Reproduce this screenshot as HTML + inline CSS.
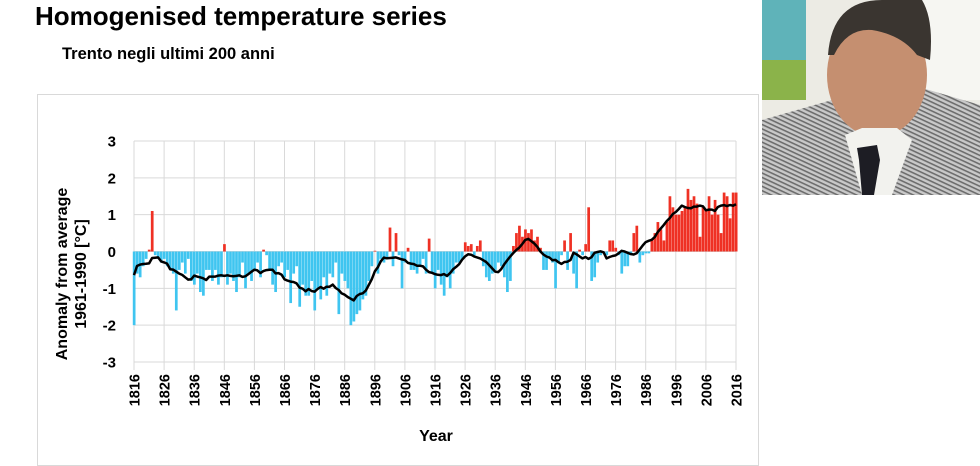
<!DOCTYPE html>
<html><head><meta charset="utf-8"><style>
body{margin:0;width:980px;height:450px;background:#fff;overflow:hidden;position:relative;font-family:"Liberation Sans",Arial,sans-serif}
.t{position:absolute;font-weight:bold;color:#000;white-space:nowrap}
</style></head><body>
<div class="t" style="left:35px;top:1px;font-size:26px">Homogenised temperature series</div>
<div class="t" style="left:62px;top:45px;font-size:16.5px">Trento negli ultimi 200 anni</div>
<svg style="position:absolute;left:762px;top:0" width="218" height="195" viewBox="0 0 218 195">
<defs><pattern id="st" width="4" height="4" patternUnits="userSpaceOnUse" patternTransform="rotate(25)"><rect width="4" height="4" fill="#c9c9c9"/><rect width="4" height="1.6" fill="#6d6d6d"/></pattern></defs>
<rect width="218" height="195" fill="#ecebe4"/>
<rect x="0" y="0" width="44" height="100" fill="#5fb3b9"/>
<rect x="0" y="60" width="44" height="40" fill="#8bb34a"/>
<rect x="160" y="0" width="58" height="100" fill="#f6f6f2"/>
<path d="M0 120 L70 100 L150 85 L218 105 L218 195 L0 195 Z" fill="url(#st)"/>
<ellipse cx="115" cy="75" rx="50" ry="62" fill="#c58f70"/>
<path d="M66 55 Q70 0 120 0 L160 0 Q172 20 168 60 L155 55 Q140 35 110 30 Q85 28 72 55 Z" fill="#3a3530"/>
<path d="M83 135 L100 128 L135 128 L150 140 L130 195 L100 195 Z" fill="#f2f2ee"/>
<path d="M95 148 L115 145 L118 160 L112 195 L100 195 L97 160 Z" fill="#1d1d24"/>
</svg>
<div style="position:absolute;left:37px;top:94px;width:720px;height:370px;border:1px solid #d9d9d9"></div>
<svg id="chart" style="position:absolute;left:0;top:0" width="980" height="450"></svg>
<script>
const years=[];for(let y=1816;y<=2016;y++)years.push(y);
const anomalies=[
-2.0,-0.6,-0.7,-0.4,-0.2,0.05,1.1,-0.1,-0.2,-0.3,
-0.2,-0.4,-0.5,-0.6,-1.6,-0.5,-0.3,-0.6,-0.2,-0.8,
-0.9,-0.6,-1.1,-1.2,-0.5,-0.5,-0.8,-0.5,-0.9,-0.7,
0.2,-0.9,-0.6,-0.8,-1.1,-0.7,-0.3,-1.0,-0.6,-0.8,
-0.5,-0.3,-0.7,0.05,-0.1,-0.5,-0.9,-1.1,-0.4,-0.3,
-0.7,-0.5,-1.4,-0.6,-0.4,-1.5,-0.9,-1.2,-1.2,-0.8,
-1.6,-1.0,-1.3,-0.7,-1.2,-0.6,-0.7,-0.3,-1.7,-0.6,
-0.8,-1.0,-2.0,-1.9,-1.7,-1.6,-1.3,-1.2,-0.8,-0.4,
0.02,-0.6,-0.2,-0.3,-0.2,0.65,-0.4,0.5,-0.1,-1.0,
-0.3,0.1,-0.5,-0.5,-0.6,-0.4,-0.2,-0.6,0.35,-0.6,
-1.0,-0.5,-0.9,-1.2,-0.7,-1.0,-0.6,-0.3,-0.3,-0.2,
0.25,0.15,0.2,-0.1,0.15,0.3,-0.4,-0.7,-0.8,-0.6,
-0.5,-0.3,-0.4,-0.7,-1.1,-0.8,0.15,0.5,0.7,0.4,
0.6,0.5,0.6,0.3,0.4,0.1,-0.5,-0.5,-0.2,-0.3,
-1.0,-0.3,-0.1,0.3,-0.5,0.5,-0.6,-1.0,0.05,-0.1,
0.2,1.2,-0.8,-0.7,-0.3,-0.1,-0.05,-0.1,0.3,0.3,
0.1,-0.1,-0.6,-0.4,-0.4,-0.1,0.5,0.7,-0.3,-0.1,
-0.05,-0.05,0.3,0.5,0.8,0.6,0.3,0.8,1.5,1.2,
1.0,1.0,1.1,1.2,1.7,1.4,1.5,1.3,0.4,1.2,
1.1,1.5,1.0,1.4,1.0,0.5,1.6,1.5,0.9,1.6,
1.6];
const yTicks=[3,2,1,0,-1,-2,-3];
const xTickYears=[];for(let y=1816;y<=2016;y+=10)xTickYears.push(y);
const win=5;
const smooth=anomalies.map((v,i)=>{let s=0,n=0;for(let k=i-win;k<=i+win;k++){if(k>=0&&k<anomalies.length){s+=anomalies[k];n++;}}return s/n;});

const NS='http://www.w3.org/2000/svg';
const svg=document.getElementById('chart');
const X0=134,X1=736,Y0=141,Y1=362;
const xs=y=>X0+(y-1816)*(X1-X0)/200;
const ys=v=>Y0+(3-v)*(Y1-Y0)/6;
function mk(t,a){const e=document.createElementNS(NS,t);for(const k in a)e.setAttribute(k,a[k]);svg.appendChild(e);return e;}
yTicks.forEach(t=>{const l=mk('line',{x1:X0,x2:X1,y1:ys(t),y2:ys(t),stroke:'#d9d9d9','stroke-width':1});


const tx=mk('text',{x:116,y:ys(t)+5.5,'text-anchor':'end','font-size':15,'font-weight':'bold','font-family':'Liberation Sans,sans-serif'});tx.textContent=t;


});
xTickYears.forEach(y=>{const l=mk('line',{x1:xs(y),x2:xs(y),y1:Y0,y2:Y1+8,stroke:'#d9d9d9','stroke-width':1});


const tx=mk('text',{x:0,y:0,'text-anchor':'end','font-size':14.5,'font-weight':'bold','font-family':'Liberation Sans,sans-serif',transform:`translate(${xs(y)+5.5},374) rotate(-90)`});tx.textContent=y;


});
const bw=(X1-X0)/200;
anomalies.forEach((v,i)=>{const x=xs(years[i])-bw/2+0.3;const y=Math.min(ys(v),ys(0));const h=Math.abs(ys(v)-ys(0));
const r=mk('rect',{x:x,y:y,width:bw-0.3,height:Math.max(h,0.5),fill:v>=0?'#ef3124':'#3fc5f0'});


});
const p=mk('path',{d:smooth.map((v,i)=>(i?'L':'M')+xs(years[i]).toFixed(1)+' '+ys(v).toFixed(1)).join(''),fill:'none',stroke:'#000','stroke-width':2.5,'stroke-linejoin':'round'});


const at=mk('text',{x:0,y:0,'text-anchor':'middle','font-size':16,'font-weight':'bold','font-family':'Liberation Sans,sans-serif',transform:'translate(67,274) rotate(-90)'});at.textContent='Anomaly from average';


const at2=mk('text',{x:0,y:0,'text-anchor':'middle','font-size':16,'font-weight':'bold','font-family':'Liberation Sans,sans-serif',transform:'translate(86,274) rotate(-90)'});at2.textContent='1961-1990 [°C]';


const xt=mk('text',{x:436,y:441,'text-anchor':'middle','font-size':16,'font-weight':'bold','font-family':'Liberation Sans,sans-serif'});xt.textContent='Year';


</script>
</body></html>
